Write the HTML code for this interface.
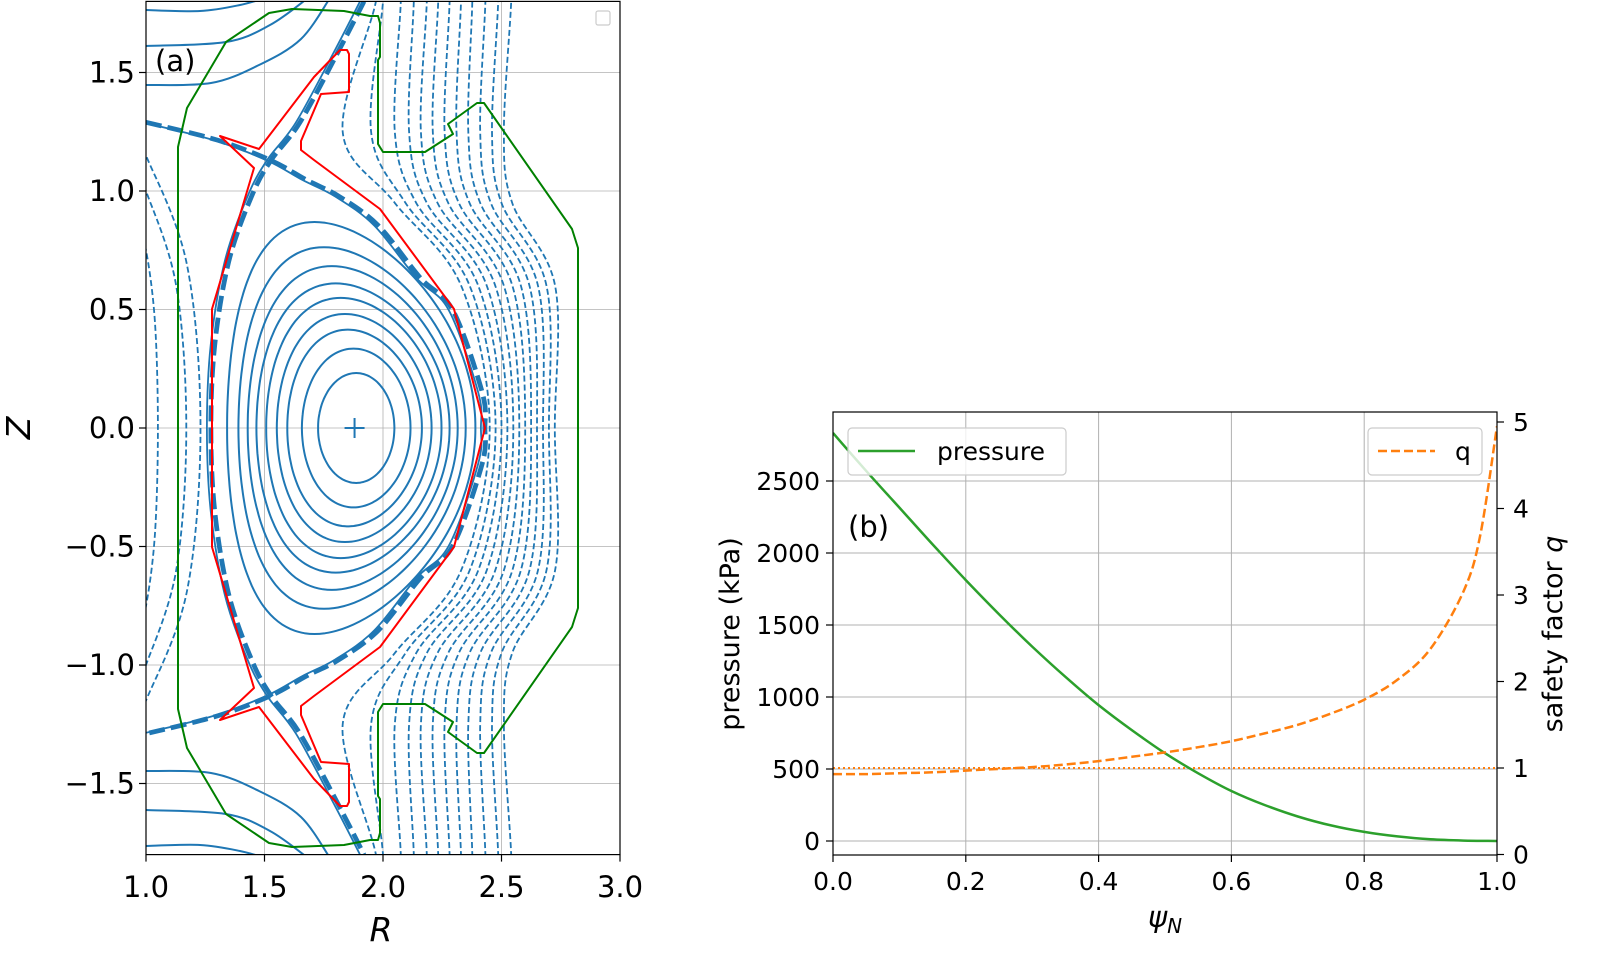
<!DOCTYPE html>
<html><head><meta charset="utf-8"><style>
body{margin:0;background:#fff}
svg{display:block}
text{font-family:"DejaVu Sans","Liberation Sans",sans-serif;fill:#000}
</style></head><body>
<svg id="s" width="1600" height="961" viewBox="0 0 1600 961" xmlns="http://www.w3.org/2000/svg"></svg>
<script>
// ---- panel (b) data ----
const psiP=[0,.05,.1,.15,.2,.25,.3,.35,.4,.45,.5,.55,.6,.65,.7,.75,.8,.85,.9,.95,1];
const pressure=[2833,2570,2315,2060,1812,1575,1350,1140,944,770,610,470,347,250,170,108,63,32,12,3,0];
const psiQ=[0,.05,.1,.15,.2,.25,.3,.35,.4,.45,.5,.55,.6,.65,.7,.75,.8,.85,.9,.95,.975,1];
const qVals=[0.93,0.93,0.94,0.95,0.97,0.99,1.01,1.04,1.08,1.13,1.18,1.24,1.31,1.40,1.50,1.63,1.79,2.02,2.38,3.05,3.7,4.95];
const psiTicks=[0,0.2,0.4,0.6,0.8,1.0];
const pTicks=[0,500,1000,1500,2000,2500];
const qTicks=[0,1,2,3,4,5];
// ---- panel (a) data ----
const rTicks=[1.0,1.5,2.0,2.5,3.0];
const zTicks=[1.5,1.0,0.5,0.0,-0.5,-1.0,-1.5];
const closedL=[1.726,1.658,1.596,1.552,1.507,1.466,1.429,1.390,1.342];
const closedR=[2.048,2.116,2.164,2.205,2.247,2.281,2.315,2.349,2.390];
const closedTop=[0.232,0.335,0.415,0.481,0.549,0.610,0.683,0.763,0.869];
const closedTri=[0,0.05,0.1,0.12,0.15,0.18,0.2,0.25,0.3];
const sepOuterR=[1.0,1.3,1.527,1.678,1.815,1.98,2.158,2.295,2.418,2.43];
const sepOuterZ=[1.29,1.215,1.129,1.046,0.977,0.854,0.633,0.496,0.152,0];
const sepInnerR=[1.92,1.815,1.65,1.527,1.445,1.349,1.29,1.274];
const sepInnerZ=[1.8,1.596,1.29,1.129,0.977,0.702,0.35,0];
const solZ=[-1.8,-1.25,-0.95,-0.6,0,0.6,0.95,1.25,1.8];
const solMid=[2.45,2.475,2.50,2.525,2.55,2.575,2.60,2.625,2.65,2.675,2.70,2.725];
const solQ=[2.33,2.366,2.402,2.438,2.474,2.51,2.546,2.582,2.618,2.654,2.69,2.726];
const solN=[2.05,2.095,2.14,2.185,2.23,2.275,2.32,2.365,2.41,2.455,2.50,2.545];
const solK=[1.83,1.95,2.05,2.11,2.16,2.21,2.26,2.31,2.36,2.41,2.46,2.51];
const solT=[1.97,2.0,2.075,2.13,2.185,2.233,2.281,2.329,2.377,2.432,2.486,2.541];
const leftApex=[1.05,1.17,1.23];
const leftEnd=[0.75,1.0,1.15];

const NS='http://www.w3.org/2000/svg';
const svg=document.getElementById('s');
function el(tag,attrs,parent){const e=document.createElementNS(NS,tag);for(const k in attrs)e.setAttribute(k,attrs[k]);(parent||svg).appendChild(e);return e;}
function cr(pts,closed){
  if(pts.length<2)return '';
  let d='M'+pts[0][0].toFixed(1)+','+pts[0][1].toFixed(1);
  const n=pts.length;
  for(let i=0;i<(closed?n:n-1);i++){
    const p0=pts[closed?(i-1+n)%n:Math.max(i-1,0)],p1=pts[i],p2=pts[(i+1)%n],p3=pts[closed?(i+2)%n:Math.min(i+2,n-1)];
    const c1=[p1[0]+(p2[0]-p0[0])/6,p1[1]+(p2[1]-p0[1])/6],c2=[p2[0]-(p3[0]-p1[0])/6,p2[1]-(p3[1]-p1[1])/6];
    d+='C'+c1[0].toFixed(1)+','+c1[1].toFixed(1)+' '+c2[0].toFixed(1)+','+c2[1].toFixed(1)+' '+p2[0].toFixed(1)+','+p2[1].toFixed(1);
  }
  return d+(closed?'Z':'');
}
const BLUE='#1f77b4';
// ===== Panel (a) =====
const X=r=>146+(r-1)*237, Y=z=>428-z*237;
const aTop=Y(1.8), aBot=Y(-1.8), aL=X(1), aR=X(3);
const ga=el('g',{});


el('defs',{}).innerHTML='<clipPath id="ca"><rect x="'+aL+'" y="'+aTop+'" width="'+(aR-aL)+'" height="'+(aBot-aTop)+'"/></clipPath><clipPath id="cb"><rect x="833" y="412" width="664" height="443"/></clipPath>';
rTicks.forEach(r=>{const g=el('line',{x1:X(r),x2:X(r),y1:aTop,y2:aBot,stroke:'#b0b0b0','stroke-width':0.8},ga);});
zTicks.forEach(z=>{const g=el('line',{x1:aL,x2:aR,y1:Y(z),y2:Y(z),stroke:'#b0b0b0','stroke-width':0.8},ga);});
const plotA=el('g',{'clip-path':'url(#ca)'},ga);
for(let i=0;i<closedL.length;i++){
  const R0=(closedL[i]+closedR[i])/2,a=(closedR[i]-closedL[i])/2,k=closedTop[i]/a,d=closedTri[i];
  const pts=[];for(let j=0;j<72;j++){const t=j/72*2*Math.PI;pts.push([X(R0+a*Math.cos(t+d*Math.sin(t))),Y(k*a*Math.sin(t))]);}
  const p=el('path',{d:cr(pts,true),fill:'none',stroke:BLUE,'stroke-width':2},plotA);
  
  
}
for(let i=0;i<solMid.length;i++){
  const rs=[solT[i],solK[i],solN[i],solQ[i],solMid[i],solQ[i],solN[i],solK[i],solT[i]];
  const pts=solZ.map((z,j)=>[X(rs[j]),Y(z)]);
  pts.unshift([X(solT[i]),Y(-2)]);pts.push([X(solT[i]),Y(2)]);
  const p=el('path',{d:cr(pts,false),fill:'none',stroke:BLUE,'stroke-width':1.8,'stroke-dasharray':'6 3'},plotA);
  
  
}
for(let i=0;i<leftApex.length;i++){
  const ap=leftApex[i],h=leftEnd[i];
  const pts=[[X(0.97),Y(h+0.05)],[X(1.0),Y(h)],[X(1+(ap-1)*0.75),Y(h*0.6)],[X(ap),Y(0)],[X(1+(ap-1)*0.75),Y(-h*0.6)],[X(1.0),Y(-h)],[X(0.97),Y(-h-0.05)]];
  const p=el('path',{d:cr(pts,false),fill:'none',stroke:BLUE,'stroke-width':1.8,'stroke-dasharray':'6 3'},plotA);
  
  
}
const arcs=[[[146,85],[211,83],[259,65],[301,39],[330,-2]],[[146,46],[226,42],[270,25],[308,-2]],[[146,10],[200,11],[240,5],[265,-2]]];
arcs.forEach(a=>{[a,a.map(p=>[p[0],856-p[1]])].forEach(pp=>{const p=el('path',{d:cr(pp,false),fill:'none',stroke:BLUE,'stroke-width':2},plotA);});});
function mirror(Rs,Zs){const top=Rs.map((r,i)=>[r,Zs[i]]);const bot=top.slice(0,-1).reverse().map(p=>[p[0],-p[1]]);return top.concat(bot);}
[[sepOuterR,sepOuterZ],[sepInnerR,sepInnerZ]].forEach(([Rs,Zs])=>{
  const pts=mirror(Rs,Zs).map(p=>[X(p[0]),Y(p[1])]);
  const t=el('path',{d:cr(pts,false),fill:'none',stroke:BLUE,'stroke-width':1.8,transform:'translate(-4,0)'},plotA);
  
  const p=el('path',{d:cr(pts,false),fill:'none',stroke:BLUE,'stroke-width':4.8,'stroke-dasharray':'16 6'},plotA);
  
  
});
const redTop=[[212,428],[212,309],[254,168],[220,136],[259,149],[314,77],[340,50],[347,50],[349,54],[349,92],[321,94],[301,141],[301,150],[314,160],[380,209],[454,309],[485,428]];
const redPts=redTop.concat(redTop.slice(1,-1).reverse().map(p=>[p[0],856-p[1]]));
let pr=el('polygon',{points:redPts.map(p=>p.join(',')).join(' '),fill:'none',stroke:'red','stroke-width':2,'stroke-linejoin':'round'},plotA);

const grTop=[[178,431],[178,147],[187,108],[226,42],[269,13],[292,9],[344,11],[370,16],[378,16],[380,23],[380,57],[378,60],[378,144],[383,152],[425,152],[453,134],[448,124],[477,103],[484,103],[572,229],[578,248],[578,431]];
const grPts=grTop.concat(grTop.slice(1,-1).reverse().map(p=>[p[0],856-p[1]]));
let pg=el('polygon',{points:grPts.map(p=>p.join(',')).join(' '),fill:'none',stroke:'green','stroke-width':2,'stroke-linejoin':'round'},plotA);

let mk=el('path',{d:`M${X(1.88)-10},${Y(0)}H${X(1.88)+10}M${X(1.88)},${Y(0)-10}V${Y(0)+10}`,stroke:BLUE,'stroke-width':2},ga);

let fa=el('rect',{x:aL,y:aTop,width:aR-aL,height:aBot-aTop,fill:'none',stroke:'#000','stroke-width':1.2},ga);

rTicks.forEach(r=>{el('line',{x1:X(r),x2:X(r),y1:aBot,y2:aBot+7,stroke:'#000','stroke-width':1.2},ga);
  const t=el('text',{x:X(r),y:897,'font-size':29,'text-anchor':'middle'},ga);t.textContent=r.toFixed(1);
  });
zTicks.forEach(z=>{el('line',{x1:aL-7,x2:aL,y1:Y(z),y2:Y(z),stroke:'#000','stroke-width':1.2},ga);
  const t=el('text',{x:135,y:Y(z)+10,'font-size':29,'text-anchor':'end'},ga);t.textContent=z.toFixed(1).replace('-','\u2212');
  });
let t1=el('text',{x:381,y:941,'font-size':33,'font-style':'italic','text-anchor':'middle'},ga);t1.textContent='R';

let t2=el('text',{x:0,y:0,'font-size':33,'font-style':'italic','text-anchor':'middle',transform:'translate(30,428) rotate(-90)'},ga);t2.textContent='Z';

let t3=el('text',{x:155,y:71,'font-size':29},ga);t3.textContent='(a)';

let lg=el('rect',{x:596,y:11,width:14,height:14,rx:2,fill:'#fff',stroke:'#ccc','stroke-width':1.2},ga);


// ===== Panel (b) =====
const PX=p=>833+p*664, PY=p=>841-p*0.144, QY=q=>854.5-q*86.5;
const gb=el('g',{});


psiTicks.forEach(v=>{const g=el('line',{x1:PX(v),x2:PX(v),y1:412,y2:855,stroke:'#b0b0b0','stroke-width':1},gb);});
pTicks.forEach(v=>{const g=el('line',{x1:833,x2:1497,y1:PY(v),y2:PY(v),stroke:'#b0b0b0','stroke-width':1},gb);});
const plotB=el('g',{'clip-path':'url(#cb)'},gb);
let q1=el('line',{x1:833,x2:1497,y1:QY(1),y2:QY(1),stroke:'#ff7f0e','stroke-width':2,'stroke-dasharray':'2 3'},plotB);

let pc=el('path',{d:cr(psiP.map((v,i)=>[PX(v),PY(pressure[i])]),false),fill:'none',stroke:'#2ca02c','stroke-width':2.5},plotB);

let qc=el('path',{d:cr(psiQ.map((v,i)=>[PX(v),QY(qVals[i])]),false),fill:'none',stroke:'#ff7f0e','stroke-width':2.5,'stroke-dasharray':'9 4'},plotB);

let fb=el('rect',{x:833,y:412,width:664,height:443,fill:'none',stroke:'#000','stroke-width':1.2},gb);

psiTicks.forEach(v=>{el('line',{x1:PX(v),x2:PX(v),y1:855,y2:862,stroke:'#000','stroke-width':1.2},gb);
  const t=el('text',{x:PX(v),y:890,'font-size':25,'text-anchor':'middle'},gb);t.textContent=v.toFixed(1);
  });
pTicks.forEach(v=>{el('line',{x1:826,x2:833,y1:PY(v),y2:PY(v),stroke:'#000','stroke-width':1.2},gb);
  const t=el('text',{x:820,y:PY(v)+9,'font-size':25,'text-anchor':'end'},gb);t.textContent=v;
  });
qTicks.forEach(v=>{el('line',{x1:1497,x2:1504,y1:QY(v),y2:QY(v),stroke:'#000','stroke-width':1.2},gb);
  const t=el('text',{x:1513,y:QY(v)+9,'font-size':25},gb);t.textContent=v;
  });
let xl=el('text',{x:1165,y:927,'font-size':29,'font-style':'italic','text-anchor':'middle'},gb);xl.innerHTML='ψ<tspan font-size="20" dy="6">N</tspan>';

let yl=el('text',{x:0,y:0,'font-size':27,'text-anchor':'middle',transform:'translate(739,634) rotate(-90)'},gb);yl.textContent='pressure (kPa)';

let yr=el('text',{x:0,y:0,'font-size':27,'text-anchor':'middle',transform:'translate(1562,634) rotate(-90)'},gb);yr.innerHTML='safety factor <tspan font-style="italic">q</tspan>';

let pb=el('text',{x:848,y:537,'font-size':29},gb);pb.textContent='(b)';

const l1=el('g',{},gb);
el('rect',{x:848,y:428,width:218,height:47,rx:4,fill:'#fff','fill-opacity':0.8,stroke:'#ccc','stroke-width':1.2},l1);
el('line',{x1:858,x2:915,y1:451,y2:451,stroke:'#2ca02c','stroke-width':2.5},l1);
let lt1=el('text',{x:937,y:460,'font-size':25},l1);lt1.textContent='pressure';
const l2=el('g',{},gb);
el('rect',{x:1368,y:428,width:114,height:47,rx:4,fill:'#fff','fill-opacity':0.8,stroke:'#ccc','stroke-width':1.2},l2);
el('line',{x1:1378,x2:1435,y1:451,y2:451,stroke:'#ff7f0e','stroke-width':2.5,'stroke-dasharray':'9 4'},l2);
let lt2=el('text',{x:1455,y:460,'font-size':25},l2);lt2.textContent='q';
</script>
</body></html>
